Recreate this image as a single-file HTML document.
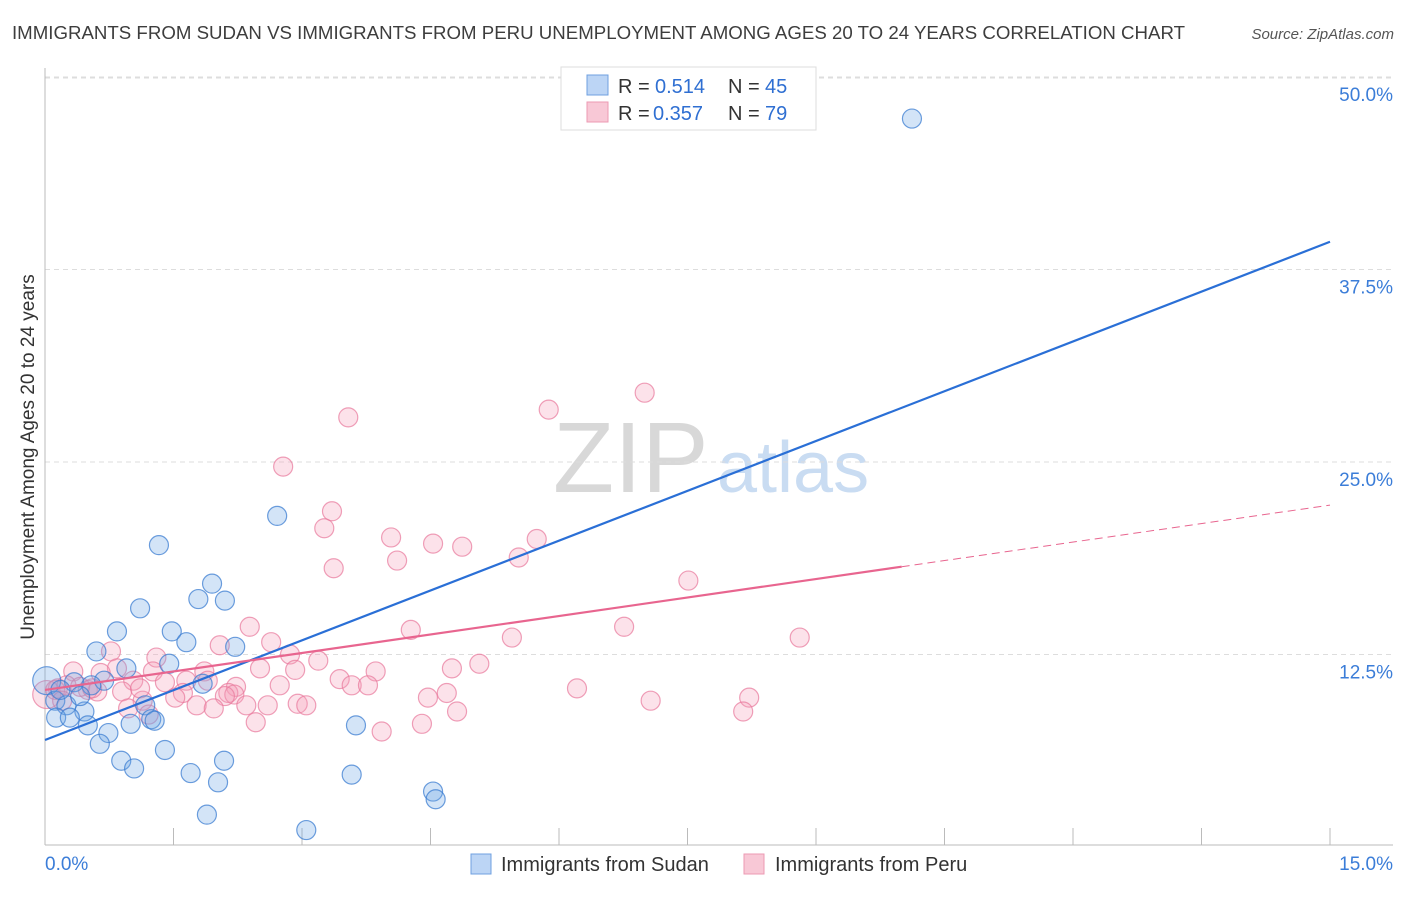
<!DOCTYPE html>
<html><head><meta charset="utf-8"><style>
body{margin:0;background:#fff;font-family:"Liberation Sans",sans-serif;}
svg text{font-family:"Liberation Sans",sans-serif;}
</style></head><body>
<svg width="1406" height="892" xmlns="http://www.w3.org/2000/svg">
<text x="12" y="39" font-size="18.6" fill="#3d3d3d" textLength="1173" lengthAdjust="spacingAndGlyphs">IMMIGRANTS FROM SUDAN VS IMMIGRANTS FROM PERU UNEMPLOYMENT AMONG AGES 20 TO 24 YEARS CORRELATION CHART</text>
<text x="1394" y="39" font-size="15" font-style="italic" fill="#555" text-anchor="end">Source: ZipAtlas.com</text>
<text transform="translate(34,457) rotate(-90)" font-size="19" fill="#333" text-anchor="middle">Unemployment Among Ages 20 to 24 years</text>
<g>
<text x="553" y="492" font-size="100" font-family="Liberation Serif,serif" fill="#d8d8d8">ZIP</text>
<text x="717" y="492" font-size="72" fill="#c9dcf2">atlas</text>
</g>
<g id="grid"></g>
<g id="axes"></g>
<g id="pts"></g>
<g id="lines"></g>
<g>
<rect x="561" y="67" width="255" height="63" fill="#fff" stroke="#ddd"/>
<rect x="587" y="75" width="21" height="20" fill="#bcd5f5" stroke="#6fa0e0"/>
<rect x="587" y="102" width="21" height="20" fill="#f8c8d6" stroke="#ec9ab3"/>
<text x="618" y="93" font-size="20" fill="#333">R = </text><text x="655" y="93" font-size="20" fill="#2f6fd2">0.514</text>
<text x="728" y="93" font-size="20" fill="#333">N = </text><text x="765" y="93" font-size="20" fill="#2f6fd2">45</text>
<text x="618" y="120" font-size="20" fill="#333">R = </text><text x="653" y="120" font-size="20" fill="#2f6fd2">0.357</text>
<text x="728" y="120" font-size="20" fill="#333">N = </text><text x="765" y="120" font-size="20" fill="#2f6fd2">79</text>
</g>
<g>
<rect x="471" y="854" width="20" height="20" fill="#bcd5f5" stroke="#6fa0e0"/>
<text x="501" y="871" font-size="20" fill="#333">Immigrants from Sudan</text>
<rect x="744" y="854" width="20" height="20" fill="#f8c8d6" stroke="#ec9ab3"/>
<text x="775" y="871" font-size="20" fill="#333">Immigrants from Peru</text>
</g>
</svg>
<script>
const xTickVals=[0,1.5,3,4.5,6,7.5,9,10.5,12,13.5,15];
const yTickVals=[12.5,25,37.5,50];
const yTickLabels=["12.5%","25.0%","37.5%","50.0%"];
const xEndLabels=["0.0%","15.0%"];
const sudanX=[10.12,2.71,1.33,1.95,1.79,2.10,1.11,0.84,1.48,1.65,2.22,0.60,1.45,0.95,0.69,0.34,0.54,1.84,0.02,0.12,1.17,0.25,0.46,0.13,0.29,1.24,1.28,1.0,0.50,3.63,0.74,0.64,1.40,2.09,0.89,1.04,1.70,3.58,2.02,4.53,4.56,1.89,3.05,0.18,0.41];
const sudanY=[47.3,21.5,19.6,17.1,16.1,16.0,15.5,14.0,14.0,13.3,13.0,12.7,11.9,11.6,10.8,10.7,10.5,10.6,10.8,9.5,9.2,9.2,8.8,8.4,8.4,8.3,8.2,8.0,7.9,7.9,7.4,6.7,6.3,5.6,5.6,5.1,4.8,4.7,4.2,3.6,3.1,2.1,1.1,10.2,9.8];
const peruX=[7.0,5.88,3.54,2.78,3.35,3.26,4.04,5.74,4.53,4.87,5.53,4.11,3.37,7.51,2.39,6.76,4.27,5.45,8.81,2.64,2.04,2.86,3.19,5.07,0.77,1.30,0.33,0.84,0.65,1.86,2.51,2.92,4.75,3.86,1.26,1.40,3.44,1.65,1.03,1.90,2.23,2.74,3.58,3.77,6.21,0.15,0.5,0.61,0.9,1.61,2.14,2.21,2.10,4.69,1.52,4.47,8.22,1.14,7.07,1.77,2.35,2.60,2.95,3.05,1.97,0.97,4.81,8.15,2.46,4.40,3.93,1.21,0.02,0.12,0.25,0.41,0.55,0.2,1.11];
const peruY=[29.5,28.4,27.9,24.7,21.8,20.7,20.1,20.0,19.7,19.5,18.8,18.6,18.1,17.3,14.3,14.3,14.1,13.6,13.6,13.3,13.1,12.5,12.1,11.9,12.7,12.3,11.4,11.6,11.3,11.4,11.6,11.5,11.6,11.4,11.4,10.7,10.9,10.8,10.8,10.8,10.4,10.5,10.5,10.5,10.3,10.3,10.2,10.1,10.1,10.0,10.0,9.9,9.8,10.0,9.7,9.7,9.7,9.5,9.5,9.2,9.2,9.2,9.3,9.2,9.0,9.0,8.8,8.8,8.1,8.0,7.5,8.6,9.9,10.2,10.5,10.4,10.3,9.5,10.3];
const sudanTrend=[[0,6.95],[15,39.3]];
const peruTrend=[[0,10.2],[10,18.2],[15,22.2]];
const NS="http://www.w3.org/2000/svg";
const X=v=>45+v/15*1285, Y=v=>847-v/12.5*192.5;
function mk(p,t,a){const e=document.createElementNS(NS,t);for(const k in a)e.setAttribute(k,a[k]);p.appendChild(e);return e;}
const grid=document.getElementById('grid'),axes=document.getElementById('axes'),pts=document.getElementById('pts'),lines=document.getElementById('lines');
yTickVals.forEach((v,i)=>{
 const g=mk(grid,'line',{x1:45,x2:1393,y1:Y(v),y2:Y(v),stroke:'#ddd','stroke-dasharray':'5,4'});
 
 
 const t=mk(axes,'text',{x:1393,y:Y(v)+24,'font-size':19,fill:'#3b7dd8','text-anchor':'end'});
 t.textContent=yTickLabels[i];
 
 
});
const topGrid=mk(grid,'line',{x1:45,x2:1393,y1:78,y2:78,stroke:'#ddd','stroke-dasharray':'5,4'});


const ya=mk(axes,'line',{x1:45,x2:45,y1:68,y2:845,stroke:'#bbb'});


const xa=mk(axes,'line',{x1:45,x2:1393,y1:845,y2:845,stroke:'#bbb'});


xTickVals.forEach(v=>{
 const t=mk(axes,'line',{x1:X(v),x2:X(v),y1:828,y2:845,stroke:'#bbb'});
 
 
});
const l0=mk(axes,'text',{x:45,y:870,'font-size':19,fill:'#3b7dd8'});l0.textContent=xEndLabels[0];


const l1=mk(axes,'text',{x:1393,y:870,'font-size':19,fill:'#3b7dd8','text-anchor':'end'});l1.textContent=xEndLabels[1];


peruX.forEach((v,i)=>{
 const c=mk(pts,'circle',{cx:X(v),cy:Y(peruY[i]),r:(v<0.05?14:9.5),fill:'rgba(244,160,185,0.3)',stroke:'rgba(232,120,155,0.7)','stroke-width':1.2});
 
 
});
sudanX.forEach((v,i)=>{
 const c=mk(pts,'circle',{cx:X(v),cy:Y(sudanY[i]),r:(v<0.05?14:9.5),fill:'rgba(110,165,230,0.3)',stroke:'rgba(60,125,210,0.75)','stroke-width':1.2});
 
 
});
const bl=mk(lines,'line',{x1:X(sudanTrend[0][0]),y1:Y(sudanTrend[0][1]),x2:X(sudanTrend[1][0]),y2:Y(sudanTrend[1][1]),stroke:'#2a6fd6','stroke-width':2.2});


const pl=mk(lines,'line',{x1:X(peruTrend[0][0]),y1:Y(peruTrend[0][1]),x2:X(peruTrend[1][0]),y2:Y(peruTrend[1][1]),stroke:'#e8658f','stroke-width':2.2});


const pd=mk(lines,'line',{x1:X(peruTrend[1][0]),y1:Y(peruTrend[1][1]),x2:X(peruTrend[2][0]),y2:Y(peruTrend[2][1]),stroke:'#e8658f','stroke-width':1,'stroke-dasharray':'8,5'});


</script>
</body></html>
